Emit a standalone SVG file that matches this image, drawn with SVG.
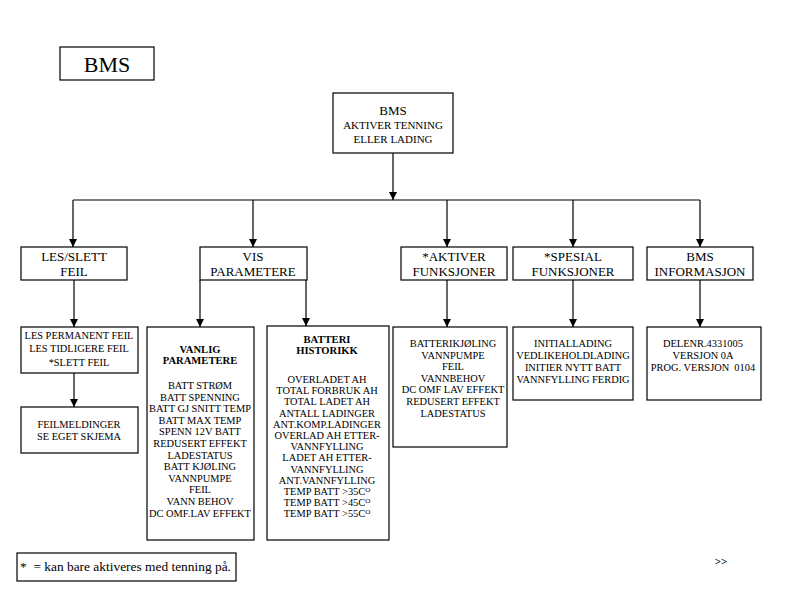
<svg xmlns="http://www.w3.org/2000/svg" width="800" height="600" viewBox="0 0 800 600" font-family="'Liberation Serif', 'DejaVu Serif', serif">
  <style>
    .box { fill: #ffffff; stroke: #000000; stroke-width: 1.2; }
    .wire { fill: none; stroke: #000000; stroke-width: 1.2; }
    text { font-family: 'Liberation Serif', 'DejaVu Serif', serif; fill: #000000; text-anchor: middle; }
    .h2 { font-size: 13px; }
    .t { font-size: 10.4px; }
    .b { font-size: 10.6px; font-weight: bold; }
  </style>
  <defs>
    <marker id="arrow" viewBox="0 0 8 8" refX="8" refY="4" markerWidth="8" markerHeight="8" markerUnits="userSpaceOnUse" orient="auto">
      <path d="M0,0 L8,4 L0,8 Z" fill="#000000"/>
    </marker>
  </defs>
  <rect width="800" height="600" fill="#ffffff"/>

  <!-- connectors -->
  <g id="connectors">
    <path class="wire" d="M393,153 V200" marker-end="url(#arrow)"/>
    <path class="wire" d="M73,200 H700"/>
    <path class="wire" d="M73,200 V247" marker-end="url(#arrow)"/>
    <path class="wire" d="M253,200 V247" marker-end="url(#arrow)"/>
    <path class="wire" d="M447,200 V247" marker-end="url(#arrow)"/>
    <path class="wire" d="M573,200 V247" marker-end="url(#arrow)"/>
    <path class="wire" d="M700,200 V247" marker-end="url(#arrow)"/>
    <path class="wire" d="M74,280 V327" marker-end="url(#arrow)"/>
    <path class="wire" d="M74,373 V407" marker-end="url(#arrow)"/>
    <path class="wire" d="M200,280 V327" marker-end="url(#arrow)"/>
    <path class="wire" d="M306,280 V326" marker-end="url(#arrow)"/>
    <path class="wire" d="M447,280 V327" marker-end="url(#arrow)"/>
    <path class="wire" d="M573,280 V327" marker-end="url(#arrow)"/>
    <path class="wire" d="M700,280 V327" marker-end="url(#arrow)"/>
  </g>

  <g id="title">
    <rect class="box" x="60" y="47" width="94" height="33"/>
    <text x="107" y="72" style="font-size:22px">BMS</text>
  </g>

  <g id="bms-root">
    <rect class="box" x="333" y="93" width="120" height="60"/>
    <text x="393" y="115" style="font-size:13px">BMS</text>
    <text x="393" y="129" style="font-size:11px">AKTIVER TENNING</text>
    <text x="393" y="143" style="font-size:11px">ELLER LADING</text>
  </g>

  <g id="les-slett">
    <rect class="box" x="21" y="247" width="106" height="33"/>
    <text class="h2" x="74" y="261">LES/SLETT</text>
    <text class="h2" x="74" y="276">FEIL</text>
  </g>

  <g id="vis-parametere">
    <rect class="box" x="200" y="247" width="107" height="33"/>
    <text class="h2" x="253" y="261">VIS</text>
    <text class="h2" x="253" y="276">PARAMETERE</text>
  </g>

  <g id="aktiver">
    <rect class="box" x="401" y="247" width="106" height="33"/>
    <text class="h2" x="454" y="261">*AKTIVER</text>
    <text class="h2" x="454" y="276">FUNKSJONER</text>
  </g>

  <g id="spesial">
    <rect class="box" x="513" y="247" width="120" height="33"/>
    <text class="h2" x="573" y="261">*SPESIAL</text>
    <text class="h2" x="573" y="276">FUNKSJONER</text>
  </g>

  <g id="bms-info">
    <rect class="box" x="647" y="247" width="106" height="33"/>
    <text class="h2" x="700" y="261">BMS</text>
    <text class="h2" x="700" y="276">INFORMASJON</text>
  </g>

  <g id="les-feil">
    <rect class="box" x="21" y="327" width="117" height="46"/>
    <text class="t" x="79" y="339">LES PERMANENT FEIL</text>
    <text class="t" x="79" y="352">LES TIDLIGERE FEIL</text>
    <text class="t" x="79" y="366">*SLETT FEIL</text>
  </g>

  <g id="feilmeldinger">
    <rect class="box" x="21" y="407" width="117" height="46"/>
    <text class="t" x="79" y="428">FEILMELDINGER</text>
    <text class="t" x="79" y="440">SE EGET SKJEMA</text>
  </g>

  <g id="vanlig">
    <rect class="box" x="147" y="327" width="107" height="213"/>
    <text class="b" x="200" y="353">VANLIG</text>
    <text class="b" x="200" y="364">PARAMETERE</text>
    <text class="t" x="200" y="389">BATT STRØM</text>
    <text class="t" x="200" y="400.6">BATT SPENNING</text>
    <text class="t" x="200" y="412.2">BATT GJ SNITT TEMP</text>
    <text class="t" x="200" y="423.8">BATT MAX TEMP</text>
    <text class="t" x="200" y="435.4">SPENN 12V BATT</text>
    <text class="t" x="200" y="447">REDUSERT EFFEKT</text>
    <text class="t" x="200" y="458.6">LADESTATUS</text>
    <text class="t" x="200" y="470.2">BATT KJØLING</text>
    <text class="t" x="200" y="481.8">VANNPUMPE</text>
    <text class="t" x="200" y="493.4">FEIL</text>
    <text class="t" x="200" y="505">VANN BEHOV</text>
    <text class="t" x="200" y="516.6">DC OMF.LAV EFFEKT</text>
  </g>

  <g id="batteri-historikk">
    <rect class="box" x="267" y="326" width="122" height="214"/>
    <text class="b" x="327" y="343">BATTERI</text>
    <text class="b" x="327" y="354">HISTORIKK</text>
    <text class="t" x="327" y="383">OVERLADET AH</text>
    <text class="t" x="327" y="394.2">TOTAL FORBRUK AH</text>
    <text class="t" x="327" y="405.4">TOTAL LADET AH</text>
    <text class="t" x="327" y="416.6">ANTALL LADINGER</text>
    <text class="t" x="327" y="427.8">ANT.KOMP.LADINGER</text>
    <text class="t" x="327" y="439">OVERLAD AH ETTER-</text>
    <text class="t" x="327" y="450.2">VANNFYLLING</text>
    <text class="t" x="327" y="461.4">LADET AH ETTER-</text>
    <text class="t" x="327" y="472.6">VANNFYLLING</text>
    <text class="t" x="327" y="483.8">ANT.VANNFYLLING</text>
    <text class="t" x="327" y="495">TEMP BATT &gt;35C<tspan font-size="7" dy="-3">O</tspan></text>
    <text class="t" x="327" y="506.2">TEMP BATT &gt;45C<tspan font-size="7" dy="-3">O</tspan></text>
    <text class="t" x="327" y="517.4">TEMP BATT &gt;55C<tspan font-size="7" dy="-3">O</tspan></text>
  </g>

  <g id="aktiver-liste">
    <rect class="box" x="393" y="327" width="114" height="120"/>
    <text class="t" x="453" y="347">BATTERIKJØLING</text>
    <text class="t" x="453" y="358.6">VANNPUMPE</text>
    <text class="t" x="453" y="370.2">FEIL</text>
    <text class="t" x="453" y="381.8">VANNBEHOV</text>
    <text class="t" x="453" y="393.4">DC OMF LAV EFFEKT</text>
    <text class="t" x="453" y="405">REDUSERT EFFEKT</text>
    <text class="t" x="453" y="416.6">LADESTATUS</text>
  </g>

  <g id="spesial-liste">
    <rect class="box" x="513" y="327" width="120" height="73"/>
    <text class="t" x="573" y="347">INITIALLADING</text>
    <text class="t" x="573" y="359">VEDLIKEHOLDLADING</text>
    <text class="t" x="573" y="371">INITIER NYTT BATT</text>
    <text class="t" x="573" y="383">VANNFYLLING FERDIG</text>
  </g>

  <g id="info-liste">
    <rect class="box" x="647" y="327" width="114" height="73"/>
    <text class="t" x="703" y="347">DELENR.4331005</text>
    <text class="t" x="703" y="359">VERSJON 0A</text>
    <text class="t" x="703" y="371" xml:space="preserve">PROG. VERSJON  0104</text>
  </g>

  <g id="fotnote">
    <rect class="box" x="17" y="553" width="219" height="28"/>
    <text x="20" y="571" style="font-size:13.4px; text-anchor:start" xml:space="preserve">*  = kan bare aktiveres med tenning på.</text>
  </g>

  <text x="721" y="565" style="font-size:11px; font-weight:bold">&gt;&gt;</text>
</svg>
